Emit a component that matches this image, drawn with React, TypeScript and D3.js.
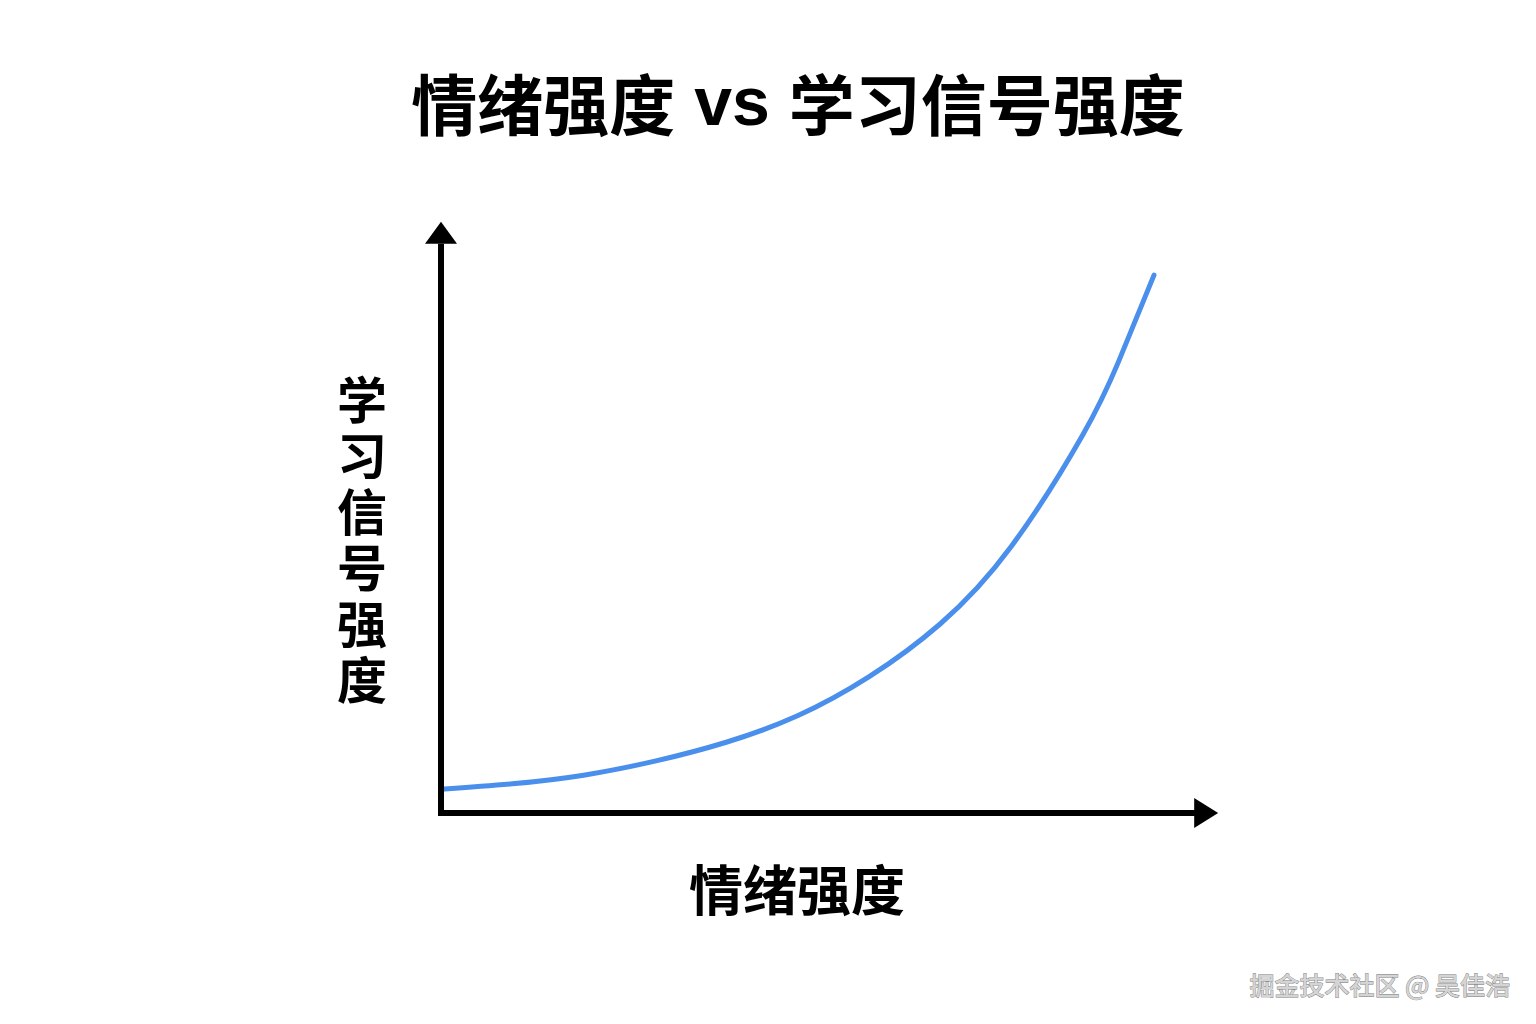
import React from "react";
import * as d3 from "d3";

// Data (emotion intensity vs learning signal intensity)
const emotionValues = [0, 1, 2, 3, 4, 5, 6, 7, 8, 9, 9.5, 10];
const signalValues = [0.44, 0.54, 0.7, 0.96, 1.31, 1.8, 2.52, 3.5, 4.94, 7.0, 8.35, 9.96];

const titleLeft = "情绪强度";
const titleMid = " vs ";
const titleRight = "学习信号强度";
const xLabel = "情绪强度";
const yLabelChars = ["学", "习", "信", "号", "强", "度"];
const watermark = "掘金技术社区 @ 吴佳浩";

const W = 1536;
const H = 1024;
const FONT = "'Noto Sans CJK SC', 'Noto Sans', sans-serif";
const LATIN = "'Liberation Sans', Arial, sans-serif";

export default function App() {
  const x = d3.scaleLinear().domain([0, 10]).range([441, 1154]);
  const y = d3.scaleLinear().domain([0, 10]).range([813, 273]);

  const points: [number, number][] = emotionValues.map((v, i) => [v, signalValues[i]]);
  const line = d3
    .line<[number, number]>()
    .x((d) => x(d[0]))
    .y((d) => y(d[1]))
    .curve(d3.curveNatural);

  const ox = x(0);
  const oy = y(0);
  const xEnd = x(10.9);
  const yEnd = y(10.95);
  const arrowLen = 24;
  const arrowHalf = 16;

  return (
    <svg
      width={W}
      height={H}
      viewBox={`0 0 ${W} ${H}`}
      style={{ position: "absolute", left: 0, top: 0, background: "#fff" }}
    >
      <rect x={0} y={0} width={W} height={H} fill="#fff" />
      <text
        x={798}
        y={101}
        textAnchor="middle"
        dominantBaseline="central"
        fontFamily={FONT}
        fontWeight={700}
        fontSize={66}
        fill="#000"
      >
        <tspan>{titleLeft}</tspan>
        <tspan fontFamily={LATIN} fontSize={68}>{titleMid}</tspan>
        <tspan>{titleRight}</tspan>
      </text>

      <path
        d={line(points) || ""}
        fill="none"
        stroke="#4A8FEC"
        strokeWidth={5}
        strokeLinecap="round"
      />

      {/* axes */}
      <line x1={ox} y1={oy + 3} x2={ox} y2={yEnd + arrowLen - 2} stroke="#000" strokeWidth={6} />
      <line x1={ox - 3} y1={oy} x2={xEnd - arrowLen + 2} y2={oy} stroke="#000" strokeWidth={6} />
      <path
        d={`M${ox},${yEnd} L${ox - arrowHalf},${yEnd + arrowLen - 2} L${ox + arrowHalf},${yEnd + arrowLen - 2} Z`}
        fill="#000"
      />
      <path
        d={`M${xEnd},${oy} L${xEnd - arrowLen},${oy - arrowHalf + 1} L${xEnd - arrowLen},${oy + arrowHalf - 1} Z`}
        fill="#000"
      />

      <text
        x={797}
        y={887}
        textAnchor="middle"
        dominantBaseline="central"
        fontFamily={FONT}
        fontWeight={700}
        fontSize={54}
        fill="#000"
      >
        {xLabel}
      </text>

      <text
        textAnchor="middle"
        dominantBaseline="central"
        fontFamily={FONT}
        fontWeight={700}
        fontSize={50}
        fill="#000"
      >
        {yLabelChars.map((c, i) => (
          <tspan key={i} x={362} y={397 + i * 56}>
            {c}
          </tspan>
        ))}
      </text>

      <text
        x={1510}
        y={984}
        textAnchor="end"
        dominantBaseline="central"
        fontFamily={FONT}
        fontWeight={500}
        fontSize={25}
        fill="#d4d4d4"
        stroke="#7a7a7a"
        strokeWidth={0.8}
        style={{ paintOrder: "stroke" }}
      >
        {watermark}
      </text>
    </svg>
  );
}
